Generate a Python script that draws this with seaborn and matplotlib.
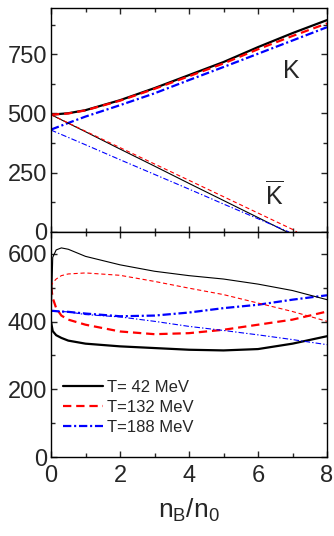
import numpy as np
import pandas as pd
import matplotlib
matplotlib.use("Agg")
import matplotlib.pyplot as plt
import seaborn as sns
from matplotlib.ticker import MultipleLocator

sns.set_style("ticks")
plt.rcParams['font.family'] = ['Liberation Sans', 'DejaVu Sans']
plt.rcParams['mathtext.fontset'] = 'custom'
plt.rcParams['mathtext.rm'] = 'Liberation Sans'
plt.rcParams['mathtext.it'] = 'Liberation Sans'
plt.rcParams['lines.scale_dashes'] = False

# ---------------- data ----------------
labels = ["T= 42 MeV", "T=132 MeV", "T=188 MeV"]
colors = ["black", "red", "blue"]

# top panel: K (upper) and Kbar (lower)
x_K = [0, 0.5, 1, 2, 3, 4, 5, 6, 7, 8]
K_42 = [495, 501, 514, 556, 607, 662, 717, 780, 839, 894]
K_132 = [495, 500, 513, 554, 604, 657, 711, 771, 827, 880]
K_188 = [432, 460, 487, 535, 585, 641, 696, 752, 808, 864]

x_Kb_42 = [0, 1, 2, 3, 4, 5, 6, 6.84]
Kb_42 = [495, 423, 350, 278, 205, 133, 61, 0]
x_Kb_132 = [0, 1, 2, 3, 4, 5, 6, 7, 7.13]
Kb_132 = [495, 425, 356, 287, 218, 149, 80, 11, 0]
x_Kb_188 = [0, 1, 2, 3, 4, 5, 6, 6.9]
Kb_188 = [430, 368, 305, 243, 181, 118, 56, 0]

# bottom panel: thick and thin curves
x_b = [0, 0.05, 0.15, 0.3, 0.5, 1, 2, 3, 4, 5, 6, 7, 8]
thick_42 = [400, 372, 360, 352, 344, 335, 327, 322, 317, 315, 319, 335, 357]
thin_42 = [400, 590, 612, 618, 614, 593, 568, 549, 536, 526, 511, 492, 465]
thick_132 = [504, 470, 440, 418, 406, 391, 371, 363, 366, 376, 391, 406, 430]
thin_132 = [504, 515, 526, 536, 541, 544, 537, 519, 499, 480, 455, 430, 401]
thick_188 = [432, 432, 431, 430, 429, 424, 416, 418, 427, 440, 450, 465, 478]
thin_188 = [432, 432, 431, 430, 429, 421, 414, 401, 386, 374, 361, 347, 332]

thick_ls = ['-', (0, (6, 3.5)), (0, (6, 2, 1.5, 2))]
thin_ls = ['-', (0, (3, 2)), (0, (4, 1.5, 1, 1.5))]
LW_THICK = 1.6
LW_THIN = 0.8

fig = plt.figure(figsize=(3.34, 5.36), dpi=100)
ax1 = fig.add_axes([51/334, 1-232/536, 276/334, 224/536])
ax2 = fig.add_axes([51/334, 1-457/536, 276/334, 225/536])

# top panel
for y, c, ls in zip([K_42, K_132, K_188], colors, thick_ls):
    sns.lineplot(x=x_K, y=y, ax=ax1, color=c, linewidth=LW_THICK, linestyle=ls)
for xx, y, c, ls in zip([x_Kb_42, x_Kb_132, x_Kb_188], [Kb_42, Kb_132, Kb_188], colors, thin_ls):
    sns.lineplot(x=xx, y=y, ax=ax1, color=c, linewidth=LW_THIN, linestyle=ls)

# bottom panel
for y, c, ls, lab in zip([thick_42, thick_132, thick_188], colors, thick_ls, labels):
    sns.lineplot(x=x_b, y=y, ax=ax2, color=c, linewidth=LW_THICK, linestyle=ls, label=lab)
for y, c, ls in zip([thin_42, thin_132, thin_188], colors, thin_ls):
    sns.lineplot(x=x_b, y=y, ax=ax2, color=c, linewidth=LW_THIN, linestyle=ls)

for ax in (ax1, ax2):
    ax.set_xlim(0, 8)
    ax.xaxis.set_major_locator(MultipleLocator(2))
    ax.xaxis.set_minor_locator(MultipleLocator(1))
    ax.tick_params(which='both', direction='in', top=True, right=True, width=1)
    ax.tick_params(which='major', length=4, labelsize=17)
    ax.tick_params(which='minor', length=3)
    ax.tick_params(axis='y', pad=3)
    ax.tick_params(axis='x', pad=6)
    for s in ax.spines.values():
        s.set_linewidth(1.0)
        s.set_color('black')
    ax.set_ylabel('')
    ax.set_xlabel('')

ax1.set_ylim(0, 945)
ax1.set_yticks([0, 250, 500, 750])
ax1.yaxis.set_minor_locator(MultipleLocator(125))
ax1.tick_params(labelbottom=False)
ax1.text(6.72, 649, "K", fontsize=18, ha='left', va='baseline')
ax1.text(6.2, 114, r"$\overline{\mathrm{K}}$", fontsize=18, ha='left', va='baseline')

ax2.set_ylim(0, 665)
ax2.set_yticks([0, 200, 400, 600])
ax2.yaxis.set_minor_locator(MultipleLocator(100))
ax2.set_xlabel(r"$\mathrm{n_B/n_0}$", fontsize=19, labelpad=7)

leg = ax2.legend(loc='center left', bbox_to_anchor=(0.043, 0.222), frameon=False,
                 fontsize=12, handlelength=2.4, handletextpad=0.25,
                 labelspacing=0.3, borderaxespad=0, borderpad=0)

fig.savefig("out.png", dpi=100)
